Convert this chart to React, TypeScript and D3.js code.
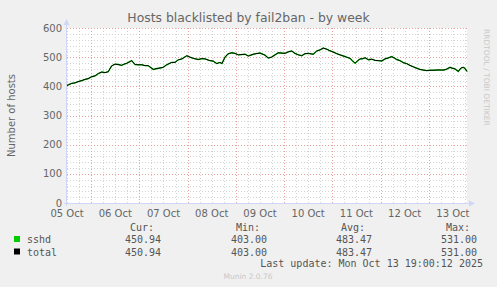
import React from "react";
import * as d3 from "d3";

const title = "Hosts blacklisted by fail2ban - by week";
const yLabel = "Number of hosts";
const yTicks = [0, 100, 200, 300, 400, 500, 600];
const dayLabels = ["05 Oct", "06 Oct", "07 Oct", "08 Oct", "09 Oct", "10 Oct", "11 Oct", "12 Oct", "13 Oct"];

// hours since 2025-10-05 12:00
const hours = [0, 2.3, 4, 5.5, 7.5, 9, 10.4, 12.3, 14, 15.6, 17.3, 18.9, 20.5, 22.2, 23.9, 25.4, 27.2, 28.4, 29.7, 32.2, 33.8, 35.3, 37.2, 38.8, 40.4, 42.9, 44.8, 46.3, 47.8, 49.6, 52.1, 53.7, 55.4, 57.2, 59.6, 61.2, 62.8, 65.3, 67.2, 68.7, 71.1, 72.6, 74.5, 76.1, 77.1, 78.6, 80.1, 81.9, 83.6, 85.2, 88.6, 90.2, 92.7, 94, 96, 98.5, 100.1, 101.8, 103.5, 105.1, 108.5, 110, 111.8, 113.4, 115.1, 116.8, 118.4, 120.1, 122.5, 124.2, 125.9, 127.5, 129.4, 130.8, 132.3, 134.2, 135.8, 137.5, 139.1, 140.8, 142, 143.3, 144.5, 145.8, 146.8, 148.3, 150, 151.6, 153.3, 154.9, 156.6, 158.2, 159.7, 161.5, 162.7, 164, 165.7, 167.3, 169, 170.6, 172.3, 174, 175.6, 177.1, 179, 180.6, 182.2, 184.1, 186.4, 187.6, 188.9, 190.5, 191.8, 193, 194.7, 195.5, 196.4, 197.3, 198, 199];
const values = [403, 410, 412, 416, 420, 424, 426, 433, 436, 444, 449, 447, 450, 470, 476, 475, 472, 476, 479, 488, 475, 474, 474, 471, 471, 458, 461, 463, 465, 474, 482, 482, 491, 494, 505, 500, 496, 492, 495, 494, 488, 487, 478, 482, 478, 500, 511, 515, 513, 508, 510, 504, 510, 512, 514, 507, 497, 500, 508, 515, 513, 518, 521, 513, 508, 505, 512, 513, 510, 521, 525, 531, 527, 522, 518, 512, 508, 504, 500, 496, 488, 479, 487, 494, 494, 498, 491, 493, 489, 488, 487, 494, 497, 502, 498, 492, 488, 481, 478, 472, 467, 462, 458, 456, 454, 455, 455, 456, 456, 456, 459, 465, 462, 460, 451, 459, 464, 465, 461, 451];

const seriesNames = ["sshd", "total"];
const seriesColors = ["#00CC00", "#000000"];
const statHeaders = ["Cur:", "Min:", "Avg:", "Max:"];
const statValues = [
  ["450.94", "403.00", "483.47", "531.00"],
  ["450.94", "403.00", "483.47", "531.00"],
];
const lastUpdate = "Last update: Mon Oct 13 19:00:12 2025";
const version = "Munin 2.0.76";
const watermark = "RRDTOOL / TOBI OETIKER";

const W = 497, H = 287;
const L = 67, R = 467, T = 28, B = 203;
const TOTAL_HOURS = 199;

export default function App() {
  const x = d3.scaleLinear().domain([0, TOTAL_HOURS]).range([L, R]);
  const y = d3.scaleLinear().domain([0, 600]).range([B, T]);
  const pts = hours.map((h, i) => [h, values[i]] as [number, number]);
  const line = d3.line<[number, number]>().x(d => x(d[0])).y(d => y(d[1]));
  const path = line(pts) || "";

  const minorH = d3.range(0, 601, 20).filter(v => v % 100 !== 0);
  const majorH = yTicks;
  const sixH = d3.range(0, TOTAL_HOURS + 0.001, 6);
  // start is 12:00, so midnight when (12 + h) % 24 === 0
  const minorV = sixH.filter(h => (12 + h) % 24 !== 0);
  const majorV = sixH.filter(h => (12 + h) % 24 === 0);
  const labelHours = dayLabels.map((_, i) => i * 24);

  const fontSans = "'DejaVu Sans', sans-serif";
  const fontMono = "'DejaVu Sans Mono', monospace";
  const colRight = [161, 267, 372, 477];
  const px = (v: number) => Math.round(v) + 0.5;

  return (
    <svg width={W} height={H} style={{ position: "absolute", left: 0, top: 0 }}>
      <rect x={0} y={0} width={W} height={H} fill="#F0F0F0" />
      <rect x={L} y={T} width={R - L} height={B - T} fill="#FFFFFF" />
      {minorH.map(v => (
        <line key={"mh" + v} x1={L} x2={R} y1={px(y(v))} y2={px(y(v))} stroke="#D4D4D4" strokeDasharray="1,2" />
      ))}
      {minorV.map((h, i) => (
        <line key={"mv" + i} x1={px(x(h))} x2={px(x(h))} y1={T} y2={B} stroke="#D4D4D4" strokeDasharray="1,2" />
      ))}
      {majorH.map(v => (
        <line key={"Mh" + v} x1={L} x2={R} y1={px(y(v))} y2={px(y(v))} stroke="#E6A0A0" strokeDasharray="1,2" />
      ))}
      {majorV.map((h, i) => (
        <line key={"Mv" + i} x1={px(x(h))} x2={px(x(h))} y1={T} y2={B} stroke="#E6A0A0" strokeDasharray="1,2" />
      ))}
      {/* axes */}
      <line x1={L - 0.5} x2={L - 0.5} y1={B + 3} y2={T - 4} stroke="#CFD6F8" />
      <line x1={L - 3} x2={R + 3} y1={B + 0.5} y2={B + 0.5} stroke="#CFD6F8" />
      <path d={`M${L - 3.5},${T - 3} L${L - 0.5},${T - 9} L${L + 2.5},${T - 3} Z`} fill="#CFD6F8" />
      <path d={`M${R + 2},${B - 2.5} L${R + 8},${B + 0.5} L${R + 2},${B + 3.5} Z`} fill="#CFD6F8" />
      {/* data */}
      <path d={path} fill="none" stroke={seriesColors[0]} strokeWidth={1.4} />
      <path d={path} fill="none" stroke={seriesColors[1]} strokeWidth={1} />
      {/* y tick labels */}
      {yTicks.map(v => (
        <text key={"yt" + v} x={62} y={y(v) + 3.5} textAnchor="end" fontFamily={fontSans} fontSize={10} fill="#666">{v}</text>
      ))}
      {dayLabels.map((lab, i) => (
        <text key={"xl" + i} x={x(labelHours[i])} y={217} textAnchor="middle" fontFamily={fontSans} fontSize={10} fill="#666">{lab}</text>
      ))}
      <text x={248.5} y={22} textAnchor="middle" fontFamily={fontSans} fontSize={12.4} fill="#666">{title}</text>
      <text transform={`translate(15,${(T + B) / 2}) rotate(-90)`} textAnchor="middle" fontFamily={fontSans} fontSize={10} fill="#666">{yLabel}</text>
      <text transform={`translate(484,${T + 1}) rotate(90)`} textAnchor="start" fontFamily={fontSans} fontSize={7.5} fill="#C8C8C8">{watermark}</text>
      {/* legend */}
      {statHeaders.map((h, i) => (
        <text key={"sh" + i} x={colRight[i] - 7} y={231} textAnchor="end" fontFamily={fontMono} fontSize={10} fill="#555">{h}</text>
      ))}
      {seriesNames.map((n, r) => (
        <g key={"lg" + r}>
          <rect x={14} y={236 + r * 12.5} width={6} height={6} fill={seriesColors[r]} />
          <text x={27} y={243 + r * 12.5} fontFamily={fontMono} fontSize={10} fill="#555">{n}</text>
          {statValues[r].map((v, i) => (
            <text key={i} x={colRight[i]} y={243 + r * 12.5} textAnchor="end" fontFamily={fontMono} fontSize={10} fill="#555">{v}</text>
          ))}
        </g>
      ))}
      <text x={483} y={267} textAnchor="end" fontFamily={fontMono} fontSize={10} fill="#555">{lastUpdate}</text>
      <text x={248} y={279} textAnchor="middle" fontFamily={fontSans} fontSize={7.5} fill="#C8C8C8">{version}</text>
    </svg>
  );
}
